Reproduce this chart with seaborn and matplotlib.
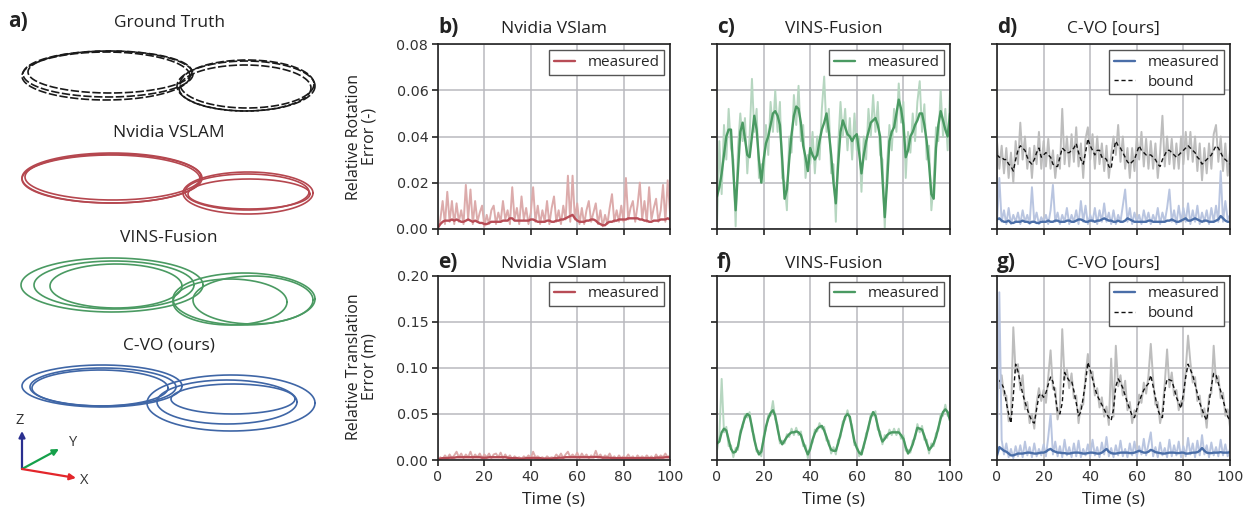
import numpy as np
import matplotlib
matplotlib.use("Agg")
import matplotlib.pyplot as plt
from matplotlib.lines import Line2D
import seaborn as sns

sns.set_theme(style="ticks")
plt.rcParams["font.family"] = ["DejaVu Sans"]

# ---------------- data (errors in units of 1e-3) ----------------
time_s = np.arange(0, 101)

nvidia_rot_raw = [
    0, 4, 12, 2, 16, 3, 12, 2, 11, 3,
    8, 2, 19, 4, 17, 2, 12, 3, 7, 10,
    1, 6, 2, 8, 10, 2, 7, 3, 12, 4,
    8, 2, 18, 4, 9, 2, 14, 4, 9, 2,
    7, 18, 3, 10, 2, 8, 3, 12, 2, 9,
    14, 3, 8, 2, 10, 4, 23, 3, 23, 4,
    11, 2, 9, 2, 8, 12, 3, 7, 11, 2,
    8, 1, 6, 2, 9, 15, 3, 8, 3, 10,
    3, 22, 4, 9, 12, 3, 10, 20, 4, 12,
    3, 18, 4, 9, 13, 3, 8, 19, 3, 21,
    7]
nvidia_rot = [
    0.5, 2, 3, 3.5, 3.5, 3.5, 4, 3.5, 4, 3.5,
    3, 3, 3.5, 4, 3.5, 3, 3.5, 3, 2.5, 2.5,
    2, 2, 2.5, 3, 3, 3, 3, 3, 3.5, 3.5,
    3.5, 4.5, 4.5, 3.5, 3.5, 3.5, 3.5, 3.5, 3.5, 3.5,
    4, 4, 3.5, 3, 3, 3, 3, 3.5, 3.5, 3,
    3, 3.5, 3.5, 4, 4, 4.5, 5, 5.5, 6, 4.5,
    3.5, 3, 3, 3, 3.5, 3.5, 4, 4, 3.5, 2.5,
    2, 1.5, 1.5, 2.5, 3, 3, 3.5, 3.5, 4, 4,
    4, 4, 4.5, 4.5, 4.5, 4.5, 4.5, 4, 4, 3.5,
    3.5, 3, 3, 3.5, 3.5, 3.5, 4, 4, 4, 4.5,
    4]

vins_rot_raw = [
    2, 38, 15, 45, 30, 52, 35, 30, 1, 35,
    50, 38, 48, 24, 40, 65, 42, 52, 22, 28,
    20, 45, 32, 55, 42, 60, 42, 55, 22, 20,
    8, 40, 33, 58, 45, 62, 38, 45, 22, 32,
    28, 42, 24, 40, 30, 52, 66, 42, 52, 24,
    28, 3, 36, 55, 40, 52, 34, 48, 30, 50,
    34, 40, 16, 40, 30, 52, 40, 58, 42, 55,
    32, 30, 0, 28, 45, 34, 52, 42, 63, 46,
    55, 22, 42, 33, 50, 38, 55, 64, 42, 54,
    30, 36, 8, 20, 44, 38, 60, 40, 52, 34,
    60]
vins_rot = [
    14, 18, 24, 32, 40, 43, 43, 25, 8, 25,
    42, 46, 39, 32, 31, 40, 49, 43, 30, 20,
    30, 37, 40, 45, 50, 51, 49, 45, 30, 13,
    17, 30, 41, 49, 53, 52, 46, 36, 31, 25,
    35, 32, 30, 32, 38, 43, 46, 50, 42, 32,
    20, 11, 28, 42, 47, 44, 41, 40, 38, 40,
    41, 33, 24, 32, 38, 42, 46, 47, 48, 45,
    40, 22, 5, 20, 38, 42, 44, 50, 56, 52,
    45, 31, 34, 40, 42, 45, 47, 50, 50, 45,
    38, 28, 15, 13, 35, 45, 51, 47, 43, 40,
    50]

cvo_rot_raw = [
    2, 22, 3, 8, 2, 9, 2, 6, 3, 7,
    2, 8, 3, 6, 2, 18, 3, 7, 2, 5,
    3, 6, 2, 8, 19, 3, 7, 2, 6, 3,
    9, 2, 6, 3, 8, 2, 12, 3, 10, 2,
    6, 3, 9, 2, 8, 3, 11, 3, 7, 2,
    8, 2, 6, 3, 10, 17, 3, 9, 2, 7,
    3, 6, 2, 8, 3, 7, 2, 6, 3, 9,
    2, 7, 3, 9, 17, 3, 8, 2, 10, 3,
    9, 3, 11, 2, 8, 3, 10, 2, 7, 3,
    8, 2, 9, 3, 10, 3, 25, 3, 12, 4,
    6]
cvo_rot = [
    4, 4.5, 3.5, 3, 3, 3.5, 2.5, 2.5, 3, 3,
    3, 3.5, 3, 3, 2.5, 3, 3, 2.5, 2.5, 3,
    3, 3, 3.5, 3, 3, 3.5, 3.5, 3, 3, 3,
    3.5, 3.5, 3, 3, 3.5, 4, 4, 3.5, 3, 3,
    3.5, 3.5, 3, 3.5, 3.5, 4, 4.5, 4, 3.5, 3.5,
    3, 3, 3.5, 3, 3, 3.5, 4.5, 4, 3.5, 3,
    3, 3, 3, 3, 3, 3.5, 3.5, 3, 3, 3,
    3, 3, 3, 3.5, 3.5, 4, 3.5, 3, 3, 3.5,
    4, 4.5, 3.5, 3.5, 4, 4.5, 4, 3.5, 3, 3.5,
    3.5, 3, 3, 3, 3.5, 4, 5.5, 4.5, 3.5, 3,
    3]
cvo_rot_bound_raw = [
    38, 26, 36, 24, 35, 22, 33, 20, 38, 28,
    46, 30, 40, 26, 35, 22, 36, 28, 42, 26,
    38, 27, 39, 26, 34, 22, 32, 26, 52, 28,
    40, 27, 41, 29, 44, 27, 37, 22, 39, 44,
    30, 41, 26, 40, 28, 37, 25, 36, 22, 32,
    40, 32, 45, 29, 40, 26, 35, 22, 35, 25,
    40, 30, 42, 27, 39, 26, 38, 26, 37, 22,
    33, 49, 27, 40, 28, 39, 26, 37, 26, 40,
    28, 42, 30, 42, 29, 40, 25, 37, 21, 35,
    24, 37, 26, 41, 45, 29, 40, 25, 37, 23,
    34]
cvo_rot_bound = [
    32, 31, 31, 30, 30, 28, 27, 25, 30, 34,
    36, 35, 34, 31, 29, 28, 30, 33, 35, 31,
    32, 33, 32, 31, 28, 27, 27, 31, 35, 34,
    33, 33, 34, 35, 37, 33, 30, 28, 33, 39,
    36, 34, 32, 34, 34, 31, 31, 30, 27, 26,
    34, 38, 36, 35, 33, 31, 29, 28, 29, 30,
    33, 36, 34, 33, 32, 32, 32, 31, 30, 28,
    27, 30, 32, 34, 34, 33, 32, 31, 32, 33,
    34, 35, 36, 35, 34, 33, 31, 30, 28, 29,
    30, 31, 32, 34, 36, 35, 33, 31, 30, 29,
    28]

nvidia_trans_raw = [
    0, 3, 1, 5, 2, 6, 2, 5, 9, 3,
    7, 2, 6, 3, 9, 2, 6, 3, 7, 2,
    6, 3, 7, 2, 6, 7, 3, 8, 2, 6,
    2, 5, 1, 4, 2, 3, 1, 4, 2, 5,
    2, 9, 3, 4, 2, 3, 1, 4, 2, 3,
    2, 6, 3, 7, 2, 6, 9, 3, 6, 3,
    8, 2, 7, 3, 6, 2, 5, 3, 10, 3,
    6, 2, 5, 3, 7, 2, 4, 1, 5, 2,
    4, 2, 6, 2, 4, 1, 5, 2, 4, 2,
    5, 2, 4, 1, 6, 2, 5, 3, 7, 3,
    5]
nvidia_trans = [
    0.5, 1.5, 2, 2, 2, 2.5, 2.5, 2.5, 3, 3,
    3, 3, 3, 3, 3, 3, 3, 3, 3, 2.5,
    2.5, 2.5, 3, 3, 3, 3, 3, 3, 3, 3,
    2.5, 2, 2, 2, 2, 1.5, 1.5, 1.5, 2, 2,
    2, 2.5, 2, 2, 2, 1.5, 1.5, 1.5, 1.5, 1.5,
    2, 2, 2.5, 2.5, 2.5, 3, 3, 3, 3, 3,
    3, 3, 3, 3, 3, 3, 3, 3, 3.5, 3,
    3, 2.5, 2.5, 2.5, 2.5, 2, 2, 2, 2, 2,
    2, 2, 2, 2, 2, 2, 2, 2, 2, 2,
    2, 2, 2, 2, 2.5, 2.5, 2.5, 2.5, 3, 3,
    3]

vins_trans_raw = [
    10, 26, 88, 30, 36, 15, 16, 3, 13, 11,
    32, 35, 50, 46, 52, 32, 26, 9, 10, 4,
    26, 33, 49, 48, 64, 44, 38, 18, 21, 18,
    28, 25, 34, 27, 35, 27, 31, 15, 16, 2,
    16, 19, 33, 31, 40, 34, 36, 21, 21, 7,
    14, 6, 22, 25, 42, 44, 54, 44, 37, 16,
    17, 4, 10, 13, 29, 33, 50, 48, 53, 33,
    31, 17, 27, 24, 33, 27, 34, 27, 34, 23,
    27, 10, 11, 8, 21, 23, 39, 30, 37, 22,
    22, 7, 18, 15, 29, 32, 50, 48, 60, 48,
    47]
vins_trans = [
    18, 20, 30, 34, 32, 22, 12, 8, 9, 15,
    28, 38, 46, 50, 48, 36, 22, 12, 6, 9,
    22, 36, 45, 51, 54, 48, 34, 22, 17, 21,
    25, 28, 30, 30, 31, 30, 27, 19, 12, 6,
    12, 22, 29, 34, 36, 37, 32, 25, 17, 11,
    10, 10, 18, 28, 38, 47, 50, 47, 33, 20,
    13, 8, 6, 16, 25, 36, 46, 52, 48, 37,
    27, 20, 23, 27, 29, 30, 30, 30, 30, 27,
    23, 14, 7, 11, 17, 26, 35, 34, 33, 26,
    18, 11, 14, 18, 25, 35, 45, 52, 55, 52,
    43]

cvo_trans_raw = [
    0, 182, 22, 6, 18, 3, 12, 2, 15, 4,
    16, 3, 20, 5, 14, 3, 18, 4, 12, 5,
    17, 4, 25, 50, 6, 20, 4, 15, 3, 22,
    5, 14, 3, 18, 4, 21, 3, 12, 5, 17,
    4, 22, 5, 14, 3, 19, 6, 25, 4, 13,
    3, 16, 5, 21, 4, 12, 3, 18, 5, 20,
    4, 15, 6, 23, 5, 17, 30, 4, 14, 3,
    19, 5, 13, 3, 22, 4, 16, 5, 20, 3,
    15, 4, 24, 6, 18, 3, 21, 5, 27, 6,
    16, 3, 19, 5, 14, 4, 22, 5, 17, 4,
    12]
cvo_trans = [
    5, 14, 12, 10, 9, 7, 5, 5, 6, 7,
    7, 7, 7.5, 8, 8, 7.5, 7, 7, 7.5, 8,
    8, 9, 11, 12, 10, 9, 8, 8, 7.5, 7.5,
    7, 7, 7.5, 8, 8, 8, 7.5, 7, 7, 7.5,
    8, 8, 7.5, 7, 7, 8, 10, 12, 9, 7.5,
    7, 7, 7.5, 8, 8, 8, 8, 7.5, 7.5, 8,
    9, 10, 9, 8, 8, 9, 11, 10, 8.5, 8,
    7.5, 7, 7, 7.5, 8, 8, 8, 7.5, 7.5, 8,
    8, 7, 7, 7.5, 8, 8, 8.5, 10, 13, 10,
    8, 7.5, 7.5, 8, 8, 8, 8.5, 8, 8, 8,
    8.5]
cvo_trans_bound_raw = [
    98, 78, 92, 70, 70, 42, 48, 144, 95, 104,
    76, 92, 55, 63, 40, 50, 34, 62, 78, 64,
    76, 62, 90, 119, 77, 78, 44, 58, 142, 87,
    98, 78, 94, 67, 70, 40, 60, 60, 92, 115,
    90, 96, 70, 78, 57, 68, 47, 58, 38, 110,
    47, 124, 80, 92, 70, 86, 54, 63, 40, 54,
    47, 71, 62, 84, 72, 91, 126, 88, 60, 63,
    40, 54, 83, 120, 79, 95, 70, 76, 54, 64,
    64, 98, 135, 106, 84, 90, 64, 70, 47, 56,
    35, 70, 72, 124, 84, 91, 67, 73, 48, 55,
    36]
cvo_trans_bound = [
    88, 86, 82, 78, 62, 50, 40, 70, 104, 96,
    84, 72, 63, 55, 48, 42, 40, 55, 70, 72,
    68, 73, 82, 90, 85, 70, 52, 50, 62, 95,
    90, 86, 86, 75, 62, 48, 52, 68, 84, 106,
    98, 88, 78, 70, 65, 60, 55, 50, 46, 43,
    55, 80, 88, 84, 78, 70, 62, 55, 48, 46,
    55, 63, 70, 76, 80, 83, 92, 80, 68, 55,
    48, 46, 75, 88, 87, 86, 78, 68, 62, 56,
    72, 90, 104, 98, 92, 82, 72, 62, 55, 48,
    43, 62, 80, 94, 92, 83, 75, 65, 56, 47,
    43]

# trajectory laps for panel a: (centre x, centre y, radius x, radius y) in panel pixels
gt_laps = [(108, 74, 85, 23), (110, 72, 82, 21), (106, 76, 84, 24),
           (246, 86, 69, 25), (247, 84, 67, 24), (245, 88, 66, 23)]
nvidia_laps = [(112, 178, 90, 25), (113, 177, 88, 23), (111, 179, 89, 24),
               (248, 193, 65, 21), (247, 192, 62, 18), (249, 194, 61, 15)]
vins_laps = [(112, 285, 91, 27), (114, 285, 80, 24), (116, 286, 66, 22),
             (244, 299, 71, 26), (230, 302, 57, 23), (253, 300, 60, 24)]
cvo_laps = [(102, 386, 80, 21), (100, 388, 68, 18), (103, 387, 73, 19),
            (231, 403, 84, 28), (227, 402, 70, 22), (233, 399, 62, 15)]

traj_titles = ["Ground Truth", "Nvidia VSLAM", "VINS-Fusion", "C-VO (ours)"]

RED, GREEN, BLUE = "#b84c56", "#4a9a62", "#4a6ea8"

# ---------------- figure ----------------
W, H = 1251, 513
fig = plt.figure(figsize=(W / 100, H / 100), dpi=100)


def px_axes(x0, y0, x1, y1):
    return fig.add_axes([x0 / W, 1 - y1 / H, (x1 - x0) / W, (y1 - y0) / H])


# panel a: trajectories
axa = px_axes(0, 0, 330, 513)
axa.set_xlim(0, 330)
axa.set_ylim(513, 0)
axa.axis("off")
theta = np.linspace(0, 2 * np.pi, 240)
for laps, col, ls in [(gt_laps, "#1a1a1a", (0, (5, 1.5))), (nvidia_laps, "#b5474f", "-"),
                      (vins_laps, "#4a9a62", "-"), (cvo_laps, "#3f66a6", "-")]:
    for cx, cy, rx, ry in laps:
        axa.plot(cx + rx * np.cos(theta), cy + ry * np.sin(theta),
                 color=col, lw=1.2, ls=ls)
for title, yb in zip(traj_titles, [27, 137, 242, 349]):
    axa.text(169, yb, title, ha="center", va="baseline", fontsize=12.5,
             family="Open Sans", color="#222")

# xyz triad
origin = (22, 469)
for tip, col, lab, lpos in [((22, 431), "#2a2f8f", "Z", (20, 421)),
                            ((59, 449), "#15a04a", "Y", (73, 443)),
                            ((76, 478), "#e3262b", "X", (84, 480))]:
    axa.annotate("", xy=tip, xytext=origin,
                 arrowprops=dict(arrowstyle="-|>", color=col, lw=1.6,
                                 mutation_scale=9, shrinkA=0, shrinkB=0))
    axa.text(*lpos, lab, ha="center", va="center", fontsize=10.5,
             family="Open Sans", color="#333")

# panels b-g
cols_x = [(438, 670), (717, 950), (997, 1230)]
rows_y = [(44.3, 228.7), (275.7, 460)]

panels = [
    ("b)", "Nvidia VSlam", nvidia_rot_raw, nvidia_rot, RED, "#dcabab", None, None),
    ("c)", "VINS-Fusion", vins_rot_raw, vins_rot, GREEN, "#b6d6c0", None, None),
    ("d)", "C-VO [ours]", cvo_rot_raw, cvo_rot, BLUE, "#b9c5e0", cvo_rot_bound_raw, cvo_rot_bound),
    ("e)", "Nvidia VSlam", nvidia_trans_raw, nvidia_trans, RED, "#dcabab", None, None),
    ("f)", "VINS-Fusion", vins_trans_raw, vins_trans, GREEN, "#b6d6c0", None, None),
    ("g)", "C-VO [ours]", cvo_trans_raw, cvo_trans, BLUE, "#b9c5e0", cvo_trans_bound_raw, cvo_trans_bound),
]

for i, (letter, title, raw, smooth, col, light, braw, bsmooth) in enumerate(panels):
    r, c = divmod(i, 3)
    x0, x1 = cols_x[c]
    y0, y1 = rows_y[r]
    ax = px_axes(x0, y0, x1, y1)

    if braw is not None:
        sns.lineplot(x=time_s, y=np.array(braw) / 1000, ax=ax, color="#bdbdbd", lw=1.4)
        sns.lineplot(x=time_s, y=np.array(bsmooth) / 1000, ax=ax, color="#111111",
                     lw=1.0, linestyle=(0, (3, 2)))
    sns.lineplot(x=time_s, y=np.array(raw) / 1000, ax=ax, color=light, lw=1.4)
    sns.lineplot(x=time_s, y=np.array(smooth) / 1000, ax=ax, color=col, lw=1.7)

    ax.set_xlim(0, 100)
    ax.set_xticks(range(0, 101, 20))
    if r == 0:
        ax.set_ylim(0, 0.08)
        ax.set_yticks([0, 0.02, 0.04, 0.06, 0.08])
    else:
        ax.set_ylim(0, 0.2)
        ax.set_yticks([0, 0.05, 0.10, 0.15, 0.20])
    ax.yaxis.set_major_formatter(matplotlib.ticker.FormatStrFormatter("%.2f"))
    ax.grid(True, color="#b9b9be", lw=1.1)
    ax.set_axisbelow(True)
    for s in ax.spines.values():
        s.set_visible(True)
        s.set_color("#222")
        s.set_linewidth(1.2)
    ax.tick_params(direction="out", length=4, width=1.2, color="#222",
                   labelsize=10.3, labelcolor="#333", pad=3)
    if r == 0:
        ax.tick_params(labelbottom=False)
    if c > 0:
        ax.tick_params(labelleft=False)
    ax.set_xlabel("")
    ax.set_ylabel("")
    if r == 1:
        ax.set_xlabel("Time (s)", fontsize=12.5, family="Open Sans", color="#222")
        ax.xaxis.set_label_coords(0.5, -0.215)
        ax.xaxis.label.set_va("center")

    handles = [Line2D([], [], color=col, lw=1.7, label="measured")]
    if braw is not None:
        handles.append(Line2D([], [], color="#111", lw=1.0, ls=(0, (3, 2)), label="bound"))
    ax.legend(handles=handles, loc="upper right", frameon=True, fancybox=False,
              edgecolor="#555", framealpha=1, prop={"family": "Open Sans", "size": 11},
              handlelength=1.4, handletextpad=0.8, borderaxespad=0.4,
              borderpad=0.3, labelspacing=0.3)

    base = 33 if r == 0 else 268
    fig.text(x0 / W, 1 - base / H, letter, ha="left", va="baseline",
             fontsize=15, fontweight="bold", family="Open Sans", color="#222")
    fig.text((x0 + x1) / 2 / W, 1 - base / H, title, ha="center", va="baseline",
             fontsize=12.5, family="Open Sans", color="#222")

fig.text(8 / W, 1 - 27 / H, "a)", ha="left", va="baseline", fontsize=15,
         fontweight="bold", family="Open Sans", color="#222")
fig.text(362 / W, 1 - 136.5 / H, "Relative Rotation\nError (-)", rotation=90,
         ha="center", va="center", fontsize=11.5, family="Open Sans",
         color="#222", linespacing=1.0, multialignment="center")
fig.text(362 / W, 1 - 367 / H, "Relative Translation\nError (m)", rotation=90,
         ha="center", va="center", fontsize=11.5, family="Open Sans",
         color="#222", linespacing=1.0, multialignment="center")

fig.savefig("out.png", dpi=100)
